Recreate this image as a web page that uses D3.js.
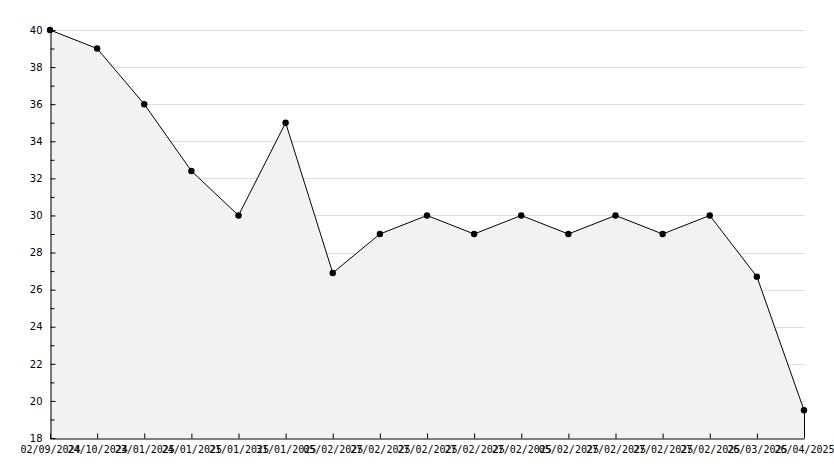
<!DOCTYPE html>
<html><head><meta charset="utf-8">
<script src="https://cdn.jsdelivr.net/npm/d3@7/dist/d3.min.js"></script>
<style>
html,body{margin:0;padding:0;background:#fff;}
svg{display:block;}
</style></head>
<body>
<svg id="chart" width="834" height="468"></svg>
<script>
const categories = ["02/09/2024","24/10/2024","23/01/2025","24/01/2025","21/01/2025","31/01/2025","05/02/2025","27/02/2025","27/02/2025","27/02/2025","27/02/2025","05/02/2025","27/02/2025","27/02/2025","27/02/2025","26/03/2025","26/04/2025"];
const values = [40, 39, 36, 32.4, 30, 35, 26.9, 29, 30, 29, 30, 29, 30, 29, 30, 26.7, 19.5];
const yMajorTicks = [18,20,22,24,26,28,30,32,34,36,38,40];
const yMinorTicks = [19,21,23,25,27,29,31,33,35,37,39];
const yGridTicks = [20,22,24,26,28,30,32,34,36,38,40];

const svg = d3.select("#chart");
const mLeft = 50, mRight = 804, mTop = 30, mBottom = 438;
const x = d3.scalePoint().domain(d3.range(categories.length)).range([mLeft, mRight]);
const y = d3.scaleLinear().domain([18, 40]).range([mBottom, mTop]);

// grid
svg.append("g").selectAll("line").data(yGridTicks).join("line")
  .attr("x1", mLeft).attr("x2", mRight + 1)
  .attr("y1", d => Math.round(y(d)) + 0.5).attr("y2", d => Math.round(y(d)) + 0.5)
  .attr("stroke", "#dddddd").attr("stroke-width", 1);

// area
const area = d3.area().x((d, i) => x(i)).y0(y(18)).y1(d => y(d));
svg.append("path").datum(values).attr("d", area).attr("fill", "#f2f2f2");

// line
const line = d3.line().x((d, i) => x(i)).y(d => y(d));
svg.append("path").datum(values).attr("d", line)
  .attr("fill", "none").attr("stroke", "#000").attr("stroke-width", 1);

// right vertical edge of area
const last = values.length - 1;
svg.append("line")
  .attr("x1", x(last) + 0.5).attr("x2", x(last) + 0.5)
  .attr("y1", y(values[last])).attr("y2", y(18))
  .attr("stroke", "#000").attr("stroke-width", 1);

// y axis
const yAxis = svg.append("g").attr("transform", `translate(${mLeft + 0.5},0)`)
  .call(d3.axisLeft(y).tickValues(yMajorTicks).tickFormat(d3.format("d"))
    .tickSizeInner(-5).tickSizeOuter(0).tickPadding(8));
yAxis.select(".domain").attr("stroke", "#000");
yAxis.selectAll(".tick line").attr("stroke", "#000");
yAxis.selectAll("text").attr("font-family", "DejaVu Sans, sans-serif").attr("font-size", "10px").attr("fill", "#000");

const yMinor = svg.append("g").attr("transform", `translate(${mLeft + 0.5},0)`)
  .call(d3.axisLeft(y).tickValues(yMinorTicks).tickFormat("")
    .tickSizeInner(-4).tickSizeOuter(0));
yMinor.select(".domain").remove();
yMinor.selectAll(".tick line").attr("stroke", "#000");

// x axis
const xAxis = svg.append("g").attr("transform", `translate(0,${mBottom + 0.5})`)
  .call(d3.axisBottom(x).tickFormat(i => categories[i])
    .tickSizeInner(-5).tickSizeOuter(0).tickPadding(7));
xAxis.select(".domain").attr("stroke", "#000");
xAxis.selectAll(".tick line").attr("stroke", "#000");
xAxis.selectAll("text").attr("font-family", "DejaVu Sans Mono, monospace").attr("font-size", "10px").attr("fill", "#000");

// markers
svg.append("g").selectAll("circle").data(values).join("circle")
  .attr("cx", (d, i) => x(i)).attr("cy", d => y(d)).attr("r", 3.2)
  .attr("fill", "#000");
</script>
</body></html>
